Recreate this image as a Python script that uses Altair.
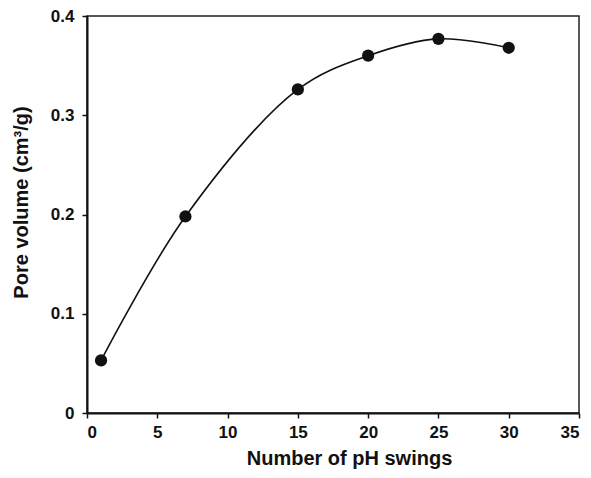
import altair as alt
import pandas as pd

swings = [1, 7, 15, 20, 25, 30]
pore_volume = [0.053, 0.198, 0.326, 0.360, 0.377, 0.368]

df = pd.DataFrame({"swings": swings, "pv": pore_volume})

x = alt.X("swings:Q", scale=alt.Scale(domain=[0, 35], nice=False, zero=False),
          axis=alt.Axis(values=[0, 5, 10, 15, 20, 25, 30, 35], title="Number of pH swings",
                        grid=False, tickSize=5, labelPadding=6, titlePadding=8,
                        titleX=262))
y = alt.Y("pv:Q", scale=alt.Scale(domain=[0, 0.4], nice=False),
          axis=alt.Axis(values=[0, 0.1, 0.2, 0.3, 0.4], title="Pore volume (cm³/g)",
                        grid=False, tickSize=5, labelPadding=8, titlePadding=19,
                        titleY=186,
                        labelExpr="datum.value == 0 ? '0' : format(datum.value, '.1f')"))

base = alt.Chart(df)
line = base.mark_line(interpolate="catmull-rom", color="#111111", strokeWidth=1.6).encode(x=x, y=y)
pts = base.mark_point(filled=True, shape="circle", size=150, color="#111111", opacity=1).encode(x=x, y=y)

chart = (line + pts).properties(
    width=492, height=397,
    autosize=alt.AutoSizeParams(type="none"),
    padding={"left": 79, "top": 8, "right": 4, "bottom": 56},
).configure_view(stroke="#222222", strokeWidth=1.5).configure_axis(
    domainColor="#111111", domainWidth=2, tickColor="#111111", tickWidth=1.5,
    labelFont="Liberation Sans", labelFontWeight="bold", labelFontSize=17, labelColor="#111111",
    titleFont="Liberation Sans", titleFontWeight="bold", titleFontSize=20, titleColor="#111111",
)

chart.save("out.html", embed_options={"renderer": "svg", "actions": False})
